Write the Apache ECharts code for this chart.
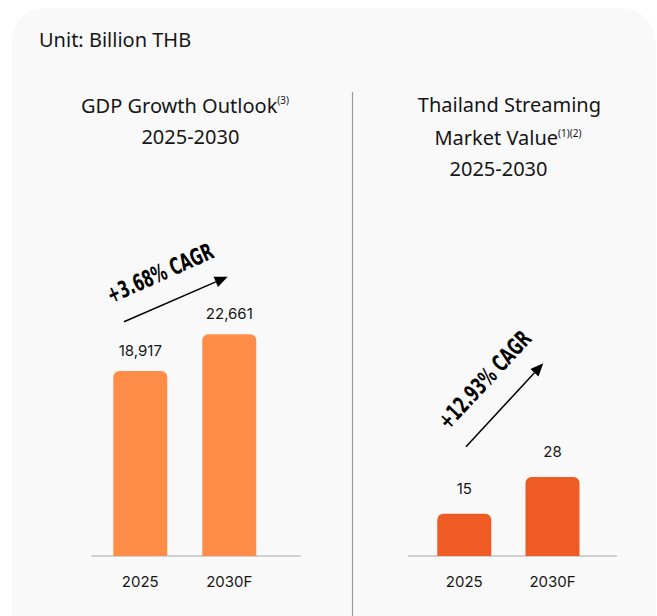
<!DOCTYPE html>
<html>
<head>
<meta charset="utf-8">
<script src="https://cdn.jsdelivr.net/npm/echarts@6/dist/echarts.min.js"></script>
<style>
html,body{margin:0;padding:0;background:#ffffff;}
#chart{width:657px;height:616px;}
</style>
</head>
<body>
<div id="chart"></div>
<script>
// ---- data ----
const categories = ['2025', '2030F'];
const gdpValues = [18917, 22661];
const streamingValues = [15, 28];
const cagrLabels = ['+3.68% CAGR', '+12.93% CAGR'];
const unitText = 'Unit: Billion THB';
const gdpTitle = ['GDP Growth Outlook', '(3)', '2025-2030'];
const streamTitle = ['Thailand Streaming', 'Market Value', '(1)(2)', '2025-2030'];

const chart = echarts.init(document.getElementById('chart'), null, {renderer: 'svg'});

const TXT = '#161616';
const SANS = "'Noto Sans', 'Open Sans', sans-serif";
const NUM = "Inter, Roboto, sans-serif";
const NARROW = "'DejaVu Sans Condensed', 'DejaVu Sans', sans-serif";

function arrow(x1, y1, x2, y2) {
  const ang = Math.atan2(y2 - y1, x2 - x1);
  const L = 13, W = 5.5;
  const bx = x2 - L * Math.cos(ang), by = y2 - L * Math.sin(ang);
  const px = -Math.sin(ang), py = Math.cos(ang);
  return [
    {type: 'line', shape: {x1: x1, y1: y1, x2: bx, y2: by}, style: {stroke: '#000', lineWidth: 1.5}},
    {type: 'polygon', shape: {points: [[x2, y2], [bx + px * W, by + py * W], [bx - px * W, by - py * W]]}, style: {fill: '#000'}}
  ];
}

function barSeries(idx, values, color, dist) {
  return {
    type: 'bar', xAxisIndex: idx, yAxisIndex: idx, data: values, barWidth: 54,
    itemStyle: {color: color, borderRadius: [6, 6, 0, 0]},
    label: {show: true, position: 'top', distance: dist, fontFamily: NUM, fontSize: 15, color: TXT,
      formatter: p => Number(p.value).toLocaleString('en-US')},
    silent: true, animation: false
  };
}

const option = {
  backgroundColor: '#ffffff',
  animation: false,
  grid: [
    {left: 95.8, width: 178, top: 262.5, height: 293.5},
    {left: 420.2, width: 176.4, top: 273.7, height: 282.3}
  ],
  xAxis: [0, 1].map(i => ({
    type: 'category', gridIndex: i, data: categories,
    axisLine: {show: false}, axisTick: {show: false},
    axisLabel: {fontFamily: NUM, fontSize: 15, color: TXT, margin: 18}
  })),
  yAxis: [
    {type: 'value', gridIndex: 0, min: 0, max: 30000, show: false, splitLine: {show: false}},
    {type: 'value', gridIndex: 1, min: 0, max: 100, show: false, splitLine: {show: false}}
  ],
  series: [
    barSeries(0, gdpValues, '#FF8D48', 13),
    barSeries(1, streamingValues, '#EF5B25', 18)
  ],
  graphic: {
    elements: [
      {type: 'rect', z: -10, shape: {x: 12, y: 8, width: 644, height: 660, r: [32, 34, 0, 0]}, style: {fill: '#F9F9F9'}},
      {type: 'line', shape: {x1: 352.5, y1: 92, x2: 352.5, y2: 616}, style: {stroke: '#9a9a9a', lineWidth: 1.2}},
      {type: 'line', shape: {x1: 91.5, y1: 556, x2: 301, y2: 556}, style: {stroke: '#aaaaaa', lineWidth: 1.2}},
      {type: 'line', shape: {x1: 408, y1: 556, x2: 617, y2: 556}, style: {stroke: '#aaaaaa', lineWidth: 1.2}},
      {type: 'text', x: 39, y: 39, style: {text: unitText, font: '20px ' + SANS, fill: TXT, textAlign: 'left', textVerticalAlign: 'middle'}},
      {type: 'text', x: 81, y: 104, style: {
        text: '{t|' + gdpTitle[0] + '}{s|' + gdpTitle[1] + '}', textAlign: 'left', textVerticalAlign: 'middle',
        rich: {t: {fontFamily: SANS, fontSize: 20, fill: TXT, lineHeight: 22, verticalAlign: 'bottom'},
               s: {fontFamily: SANS, fontSize: 10, fill: TXT, lineHeight: 22, verticalAlign: 'top', padding: [2, 0, 0, 0]}}}},
      {type: 'text', x: 190.4, y: 136.5, style: {text: gdpTitle[2], font: '20px ' + SANS, fill: TXT, textAlign: 'center', textVerticalAlign: 'middle'}},
      {type: 'text', x: 509.4, y: 104, style: {text: streamTitle[0], font: '20px ' + SANS, fill: TXT, textAlign: 'center', textVerticalAlign: 'middle'}},
      {type: 'text', x: 434.4, y: 136.5, style: {
        text: '{t|' + streamTitle[1] + '}{s|' + streamTitle[2] + '}', textAlign: 'left', textVerticalAlign: 'middle',
        rich: {t: {fontFamily: SANS, fontSize: 20, fill: TXT, lineHeight: 22, verticalAlign: 'bottom'},
               s: {fontFamily: SANS, fontSize: 10, fill: TXT, lineHeight: 22, verticalAlign: 'top', padding: [2, 0, 0, 0]}}}},
      {type: 'text', x: 498.5, y: 168, style: {text: streamTitle[3], font: '20px ' + SANS, fill: TXT, textAlign: 'center', textVerticalAlign: 'middle'}},
      {type: 'text', x: 160, y: 273, rotation: 24 * Math.PI / 180, scaleX: 0.71,
        style: {text: cagrLabels[0], font: 'bold 23px ' + NARROW, fill: '#000', textAlign: 'center', textVerticalAlign: 'middle'}},
      {type: 'text', x: 485, y: 380, rotation: 47 * Math.PI / 180, scaleX: 0.71,
        style: {text: cagrLabels[1], font: 'bold 23px ' + NARROW, fill: '#000', textAlign: 'center', textVerticalAlign: 'middle'}},
      ...arrow(124, 321.7, 227.7, 276.7),
      ...arrow(466, 446.7, 543.3, 363.3)
    ]
  }
};
chart.setOption(option);
</script>
</body>
</html>
